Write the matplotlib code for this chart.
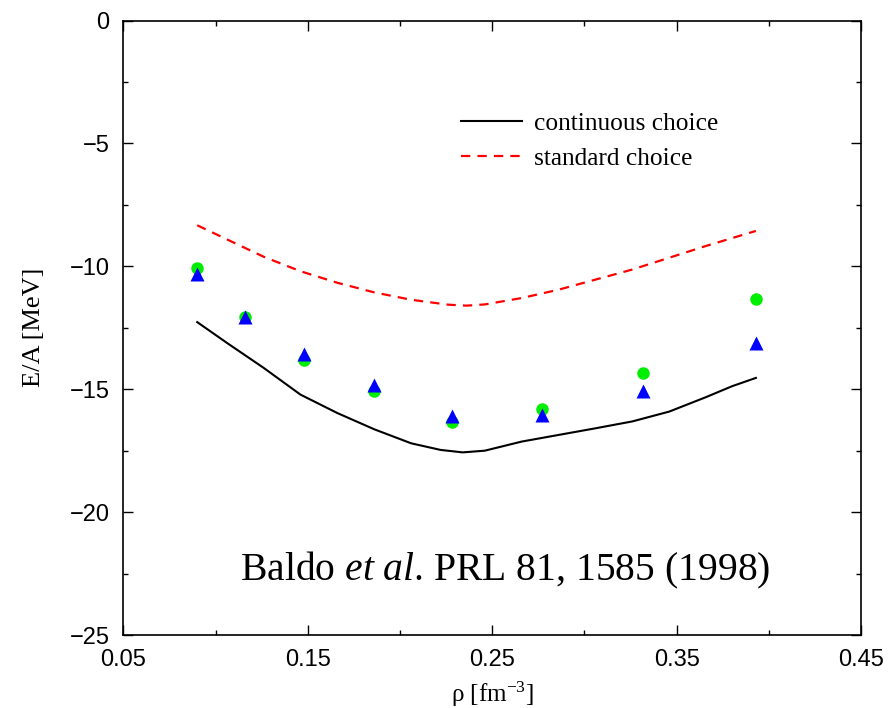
import matplotlib
matplotlib.use('Agg')
import matplotlib.pyplot as plt
from matplotlib.ticker import MultipleLocator

plt.rcParams['mathtext.fontset'] = 'custom'
plt.rcParams['mathtext.rm'] = 'Liberation Serif'
plt.rcParams['mathtext.it'] = 'Liberation Serif:italic'

# BHF points
rho_pts = [0.090, 0.116, 0.148, 0.186, 0.228, 0.277, 0.332, 0.393]
ea_green = [-10.06, -12.05, -13.80, -15.07, -16.35, -15.81, -14.32, -11.33]
ea_blue = [-10.30, -12.05, -13.56, -14.82, -16.08, -16.05, -15.07, -13.10]

# continuous choice curve
rho_cont = [0.090, 0.106, 0.126, 0.146, 0.166, 0.186, 0.206, 0.222, 0.234, 0.246,
            0.266, 0.286, 0.306, 0.326, 0.346, 0.366, 0.380, 0.393]
ea_cont = [-12.27, -13.11, -14.13, -15.22, -15.97, -16.63, -17.20, -17.47, -17.57, -17.50,
           -17.13, -16.86, -16.59, -16.31, -15.91, -15.32, -14.88, -14.54]

# standard choice curve
rho_std = [0.090, 0.106, 0.126, 0.146, 0.166, 0.186, 0.206, 0.226, 0.236, 0.246,
           0.266, 0.286, 0.306, 0.326, 0.346, 0.366, 0.393]
ea_std = [-8.33, -8.90, -9.61, -10.20, -10.67, -11.06, -11.36, -11.56, -11.60, -11.55,
          -11.29, -10.95, -10.54, -10.13, -9.65, -9.17, -8.56]

fig = plt.figure(figsize=(8.89, 7.08), dpi=100)
ax = fig.add_axes([0.1389, 0.1031, 0.8296, 0.8679])

ax.plot(rho_cont, ea_cont, color='black', lw=1.5, label='continuous choice')
ax.plot(rho_std, ea_std, color='red', lw=1.6, ls=(0, (4.2, 3.2)), label='standard choice')
ax.plot(rho_pts, ea_green, 'o', color='#00ee00', ms=9, mec='none')
ax.plot(rho_pts, ea_blue, '^', color='#0000ff', ms=9.5, mec='none')

ax.set_xlim(0.05, 0.45)
ax.set_ylim(-25, 0)
ax.yaxis.set_major_locator(MultipleLocator(5))
ax.yaxis.set_minor_locator(MultipleLocator(2.5))
ax.set_xticks([0.05, 0.15, 0.25, 0.35, 0.45])
ax.set_xticks([0.1, 0.2, 0.3, 0.4], minor=True)
ax.set_xticklabels(['0.05', '0.15', '0.25', '0.35', '0.45'])
ax.tick_params(which='both', direction='in', top=True, right=True,
               labelsize=17, width=1, pad=10)
ax.tick_params(which='major', length=7)
ax.tick_params(which='minor', length=3.5)
for lab in ax.get_xticklabels() + ax.get_yticklabels():
    lab.set_family('Liberation Sans')
for s in ax.spines.values():
    s.set_linewidth(1.2)

ax.set_xlabel(r'ρ [fm$^{-3}$]', family='Liberation Serif', fontsize=18, labelpad=6)
ax.set_ylabel('E/A [MeV]', family='Liberation Serif', fontsize=19, labelpad=18)

ax.legend(loc='upper left', bbox_to_anchor=(0.44, 0.872), frameon=False,
          prop={'family': 'Liberation Serif', 'size': 18.3},
          handlelength=2.4, handletextpad=0.5, labelspacing=0.5, borderpad=0)

ax.text(0.158, 0.0895, r'Baldo $\mathit{et\ al}$. PRL 81, 1585 (1998)',
        transform=ax.transAxes, family='Liberation Serif', fontsize=28.5, va='baseline')

fig.savefig('out.png', dpi=100)
